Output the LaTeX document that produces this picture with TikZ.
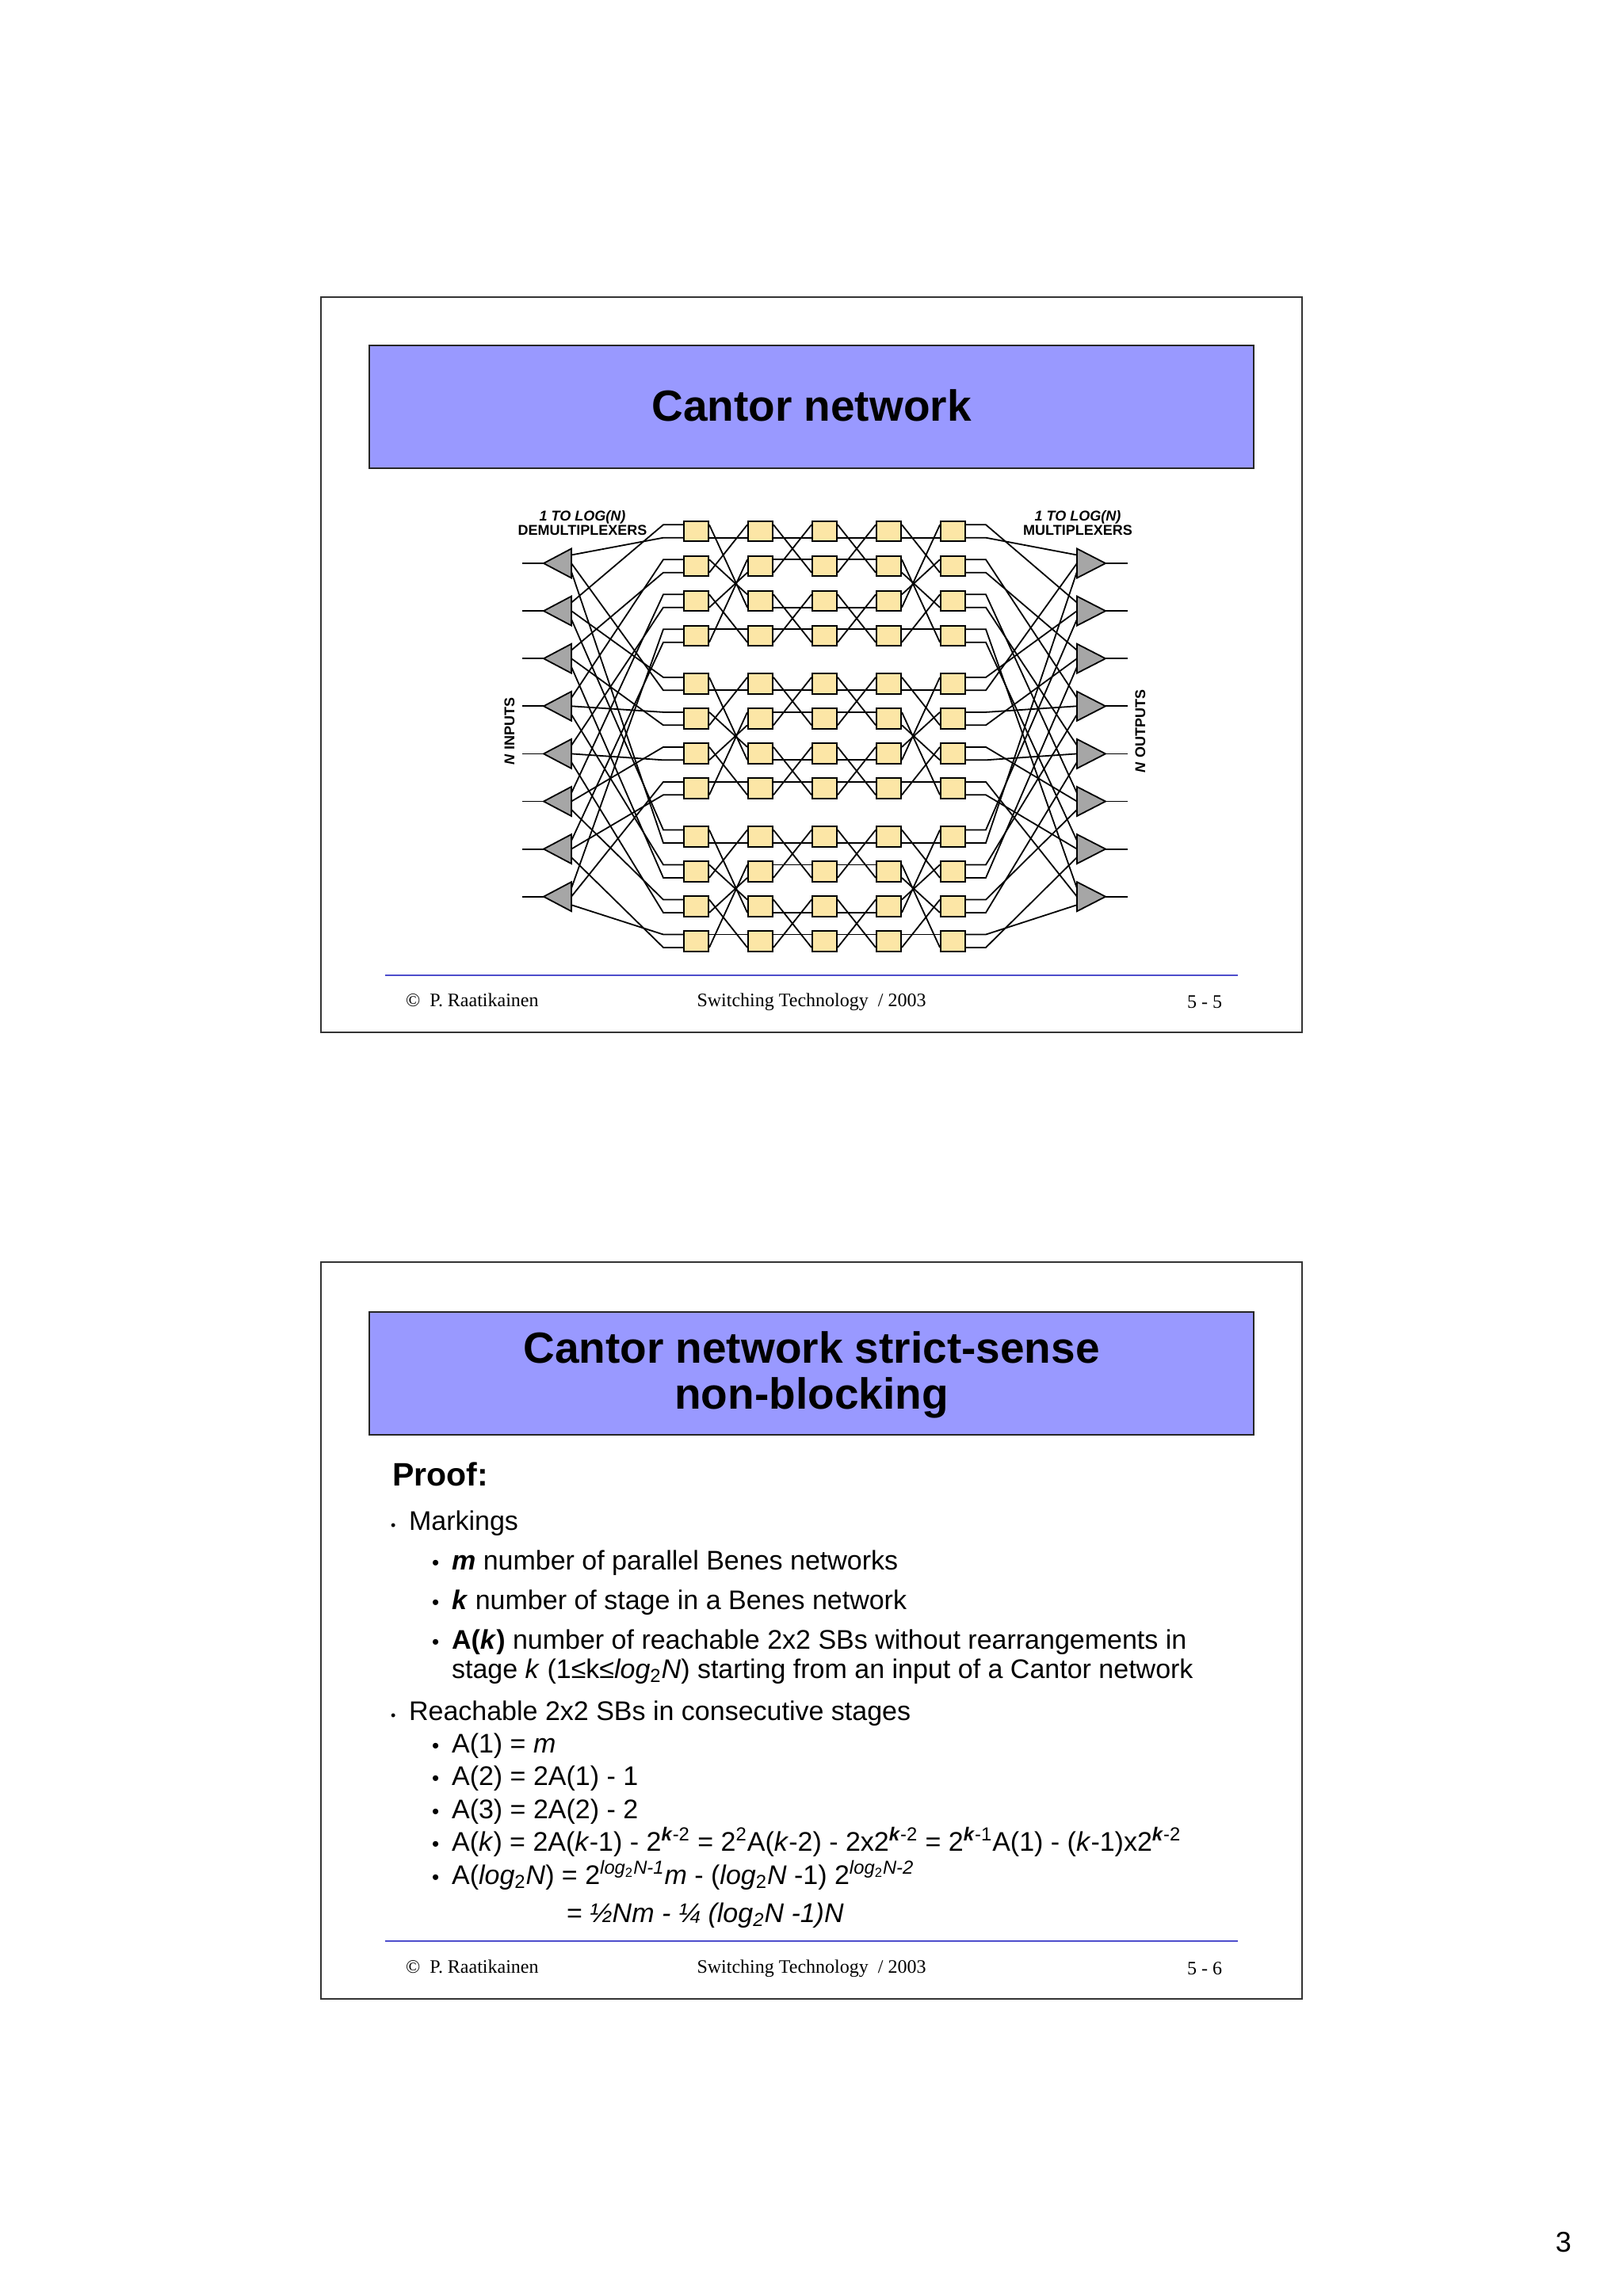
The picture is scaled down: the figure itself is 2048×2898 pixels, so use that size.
\documentclass[tikz,border=0pt]{standalone}
\usepackage{fontspec}
\setmainfont{Liberation Sans}
\newfontfamily\serifft{Liberation Serif}
\usetikzlibrary{calc}
\definecolor{titlebg}{HTML}{9999FF}
\definecolor{swfill}{HTML}{FCE6A6}
\definecolor{trifill}{HTML}{A6A6A6}
\definecolor{rulebl}{HTML}{4D4DCC}
\tikzset{
  frame/.style={draw=black!80, line width=1.2pt},
  titlebox/.style={draw=black!85, line width=1pt, fill=titlebg},
  titletxt/.style={font=\fontsize{27.5}{32}\selectfont\bfseries, align=center},
  sw/.style={draw=black, line width=1pt, fill=swfill, minimum width=15.5pt, minimum height=12.8pt, inner sep=0pt},
  wire/.style={line width=0.9pt},
  tri/.style={draw=black, line width=0.9pt, fill=trifill},
  lbl/.style={font=\fontsize{9}{10}\selectfont\bfseries},
  foot/.style={font=\serifft\fontsize{12}{14}\selectfont, anchor=base west},
  footrule/.style={draw=rulebl, line width=1pt},
  b1/.style={anchor=base west, font=\fontsize{17}{20}\selectfont},
  b2/.style={anchor=base west, font=\fontsize{17}{20}\selectfont},
  dot1/.style={anchor=base west, font=\fontsize{9}{10}\selectfont},
  dot2/.style={anchor=base west, font=\fontsize{13}{13}\selectfont},
}
\begin{document}
\begin{tikzpicture}[x=0.5pt,y=-0.5pt]
\useasboundingbox (0,0) rectangle (2048,2898);
\fill[white] (0,0) rectangle (2048,2898);
% ---------- slide 1 ----------
\draw[frame] (405,375) rectangle (1643,1303);
\node[titlebox, minimum width=558pt, minimum height=77.5pt] (t1) at (1024,513.5) {};
\node[titletxt] (t1t) at (1024,512) {Cantor network};
% inter-stage wiring first (under boxes)
\foreach \g in {0,1,2}{
  \foreach \c in {0,...,4}{
    \foreach \r in {0,...,3}{
      \pgfmathsetmacro{\xx}{878.5+81*\c}
      \pgfmathsetmacro{\yy}{670.5+192.6*\g+44*\r}
      \node[sw] (s-\g-\c-\r) at (\xx,\yy) {};
      \coordinate (i-\g-\c-\r-0) at ($(s-\g-\c-\r.west)+(0,-4.1pt)$);
      \coordinate (i-\g-\c-\r-1) at ($(s-\g-\c-\r.west)+(0,4.1pt)$);
      \coordinate (o-\g-\c-\r-0) at ($(s-\g-\c-\r.east)+(0,-4.1pt)$);
      \coordinate (o-\g-\c-\r-1) at ($(s-\g-\c-\r.east)+(0,4.1pt)$);
    }
  }
}
\foreach \g in {0,1,2}{
  \foreach \r in {0,...,3}{
    \foreach \q in {0,1}{
      \pgfmathtruncatemacro{\ta}{2*\q+floor(\r/2)}
      \pgfmathtruncatemacro{\pa}{mod(\r,2)}
      \draw[wire] (o-\g-0-\r-\q) -- (i-\g-1-\ta-\pa);
      \pgfmathtruncatemacro{\tb}{2*floor(\r/2)+\q}
      \draw[wire] (o-\g-1-\r-\q) -- (i-\g-2-\tb-\pa);
      \draw[wire] (o-\g-2-\r-\q) -- (i-\g-3-\tb-\pa);
      \pgfmathtruncatemacro{\tc}{2*mod(\r,2)+\q}
      \pgfmathtruncatemacro{\pc}{floor(\r/2)}
      \draw[wire] (o-\g-3-\r-\q) -- (i-\g-4-\tc-\pc);
    }
  }
}
% demultiplexers and multiplexers
\foreach \i in {0,...,7}{
  \pgfmathsetmacro{\yy}{711+60.1*\i}
  \coordinate (din-\i) at (659,\yy);
  \coordinate (dtip-\i) at (686,\yy);
  \draw[wire] (din-\i) -- (dtip-\i);
  \coordinate (mtip-\i) at (1395,\yy);
  \coordinate (mout-\i) at (1423,\yy);
  \draw[wire] (mtip-\i) -- (mout-\i);
  \foreach \g in {0,1,2}{
    \pgfmathsetmacro{\ey}{\yy-10.5+10.5*\g}
    \coordinate (dx-\i-\g) at (721,\ey);
    \coordinate (mx-\i-\g) at (1359,\ey);
    \pgfmathtruncatemacro{\rr}{floor(\i/2)}
    \pgfmathtruncatemacro{\qq}{mod(\i,2)}
    \coordinate (kin-\i-\g) at ($(i-\g-0-\rr-\qq)+(-25,0)$);
    \coordinate (kout-\i-\g) at ($(o-\g-4-\rr-\qq)+(25,0)$);
    \draw[wire] (dx-\i-\g) -- (kin-\i-\g) -- (i-\g-0-\rr-\qq);
    \draw[wire] (o-\g-4-\rr-\qq) -- (kout-\i-\g) -- (mx-\i-\g);
  }
  \draw[tri] (686,\yy) -- (721,\yy-18.5) -- (721,\yy+18.5) -- cycle;
  \draw[tri] (1395,\yy) -- (1359,\yy-18.5) -- (1359,\yy+18.5) -- cycle;
}
\node[lbl, align=center] (dl) at (735,660) {\textit{1 TO LOG(N)}\\[-1pt]DEMULTIPLEXERS};
\node[lbl, align=center] (ml) at (1360,660) {\textit{1 TO LOG(N)}\\[-1pt]MULTIPLEXERS};
\node[lbl, rotate=90] (nin) at (643,923) {\textit{N} INPUTS};
\node[lbl, rotate=90] (nout) at (1439,923) {\textit{N} OUTPUTS};
% footer 1
\draw[footrule] (486,1231) -- (1562,1231);
\node[foot] (f1a) at (505,1270) {\textcopyright{}\ \ P. Raatikainen};
\node[foot, anchor=base] (f1b) at (1024,1270) {Switching Technology \ / 2003};
\node[foot] (f1c) at (1491,1272) {5 - 5};
% ---------- slide 2 ----------
\draw[frame] (405,1593) rectangle (1643,2523);
\node[titlebox, minimum width=558pt, minimum height=77.5pt] (t2) at (1024,1733.5) {};
\node[titletxt] (t2t) at (1024,1735) {Cantor network strict-sense\\[-3pt]non-blocking};
\node[anchor=base west, font=\fontsize{20.5}{24}\selectfont\bfseries] (pr) at (488,1875) {Proof:};
\node[dot1] at (486,1931) {•};
\node[b1] at (509,1931) {Markings};
\node[dot2] at (538,1981) {•};
\node[b2] at (563,1981) {\textbf{\textit{m}} number of parallel Benes networks};
\node[dot2] at (538,2031) {•};
\node[b2] at (563,2031) {\textbf{\textit{k}} number of stage in a Benes network};
\node[dot2] at (538,2081) {•};
\node[b2] at (563,2081) {\textbf{A(\textit{k})} number of reachable 2x2 SBs without rearrangements in};
\node[b2] at (563,2118) {stage \textit{k} (1≤k≤\textit{log}\textsubscript{2}\textit{N}) starting from an input of a Cantor network};
\node[dot1] at (486,2171) {•};
\node[b1] at (509,2171) {Reachable 2x2 SBs in consecutive stages};
\node[dot2] at (538,2212) {•};
\node[b2] at (563,2212) {A(1) = \textit{m}};
\node[dot2] at (538,2253) {•};
\node[b2] at (563,2253) {A(2) = 2A(1) - 1};
\node[dot2] at (538,2295) {•};
\node[b2] at (563,2295) {A(3) = 2A(2) - 2};
\node[dot2] at (538,2336) {•};
\node[b2] at (563,2336) {A(\textit{k}) = 2A(\textit{k}-1) - 2\textsuperscript{\textbf{\textit{k}}-2} = 2\textsuperscript{2}A(\textit{k}-2) - 2x2\textsuperscript{\textbf{\textit{k}}-2} = 2\textsuperscript{\textbf{\textit{k}}-1}A(1) - (\textit{k}-1)x2\textsuperscript{\textbf{\textit{k}}-2}};
\node[dot2] at (538,2378) {•};
\node[b2] at (563,2378) {A(\textit{log}\textsubscript{2}\textit{N}) = 2\textsuperscript{\textit{log}\textsubscript{2}\textit{N-1}}\textit{m} - (\textit{log}\textsubscript{2}\textit{N} -1) 2\textsuperscript{\textit{log}\textsubscript{2}\textit{N-2}}};
\node[b2] at (708,2426) {= \textit{½Nm - ¼ (log\textsubscript{2}N -1)N}};
% footer 2
\draw[footrule] (486,2450) -- (1562,2450);
\node[foot] (f2a) at (505,2490) {\textcopyright{}\ \ P. Raatikainen};
\node[foot, anchor=base] (f2b) at (1024,2490) {Switching Technology \ / 2003};
\node[foot] (f2c) at (1491,2492) {5 - 6};
\node[anchor=base east, font=\fontsize{18}{20}\selectfont] (pg) at (1990,2842) {3};
\end{tikzpicture}
\end{document}
